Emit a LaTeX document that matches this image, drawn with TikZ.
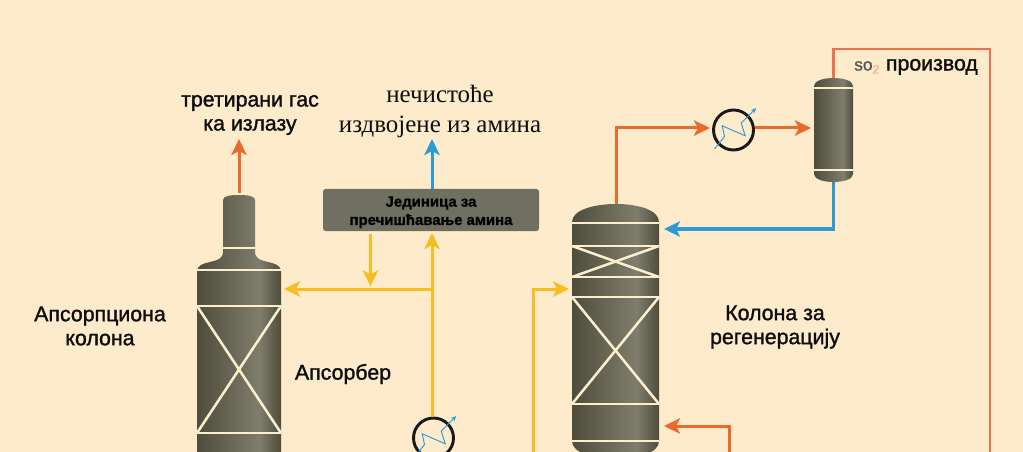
\documentclass[tikz,border=0pt]{standalone}
\usepackage{fontspec}
\setmainfont[FakeBold=1.3]{Liberation Sans}
\newfontfamily\serifcyr{Liberation Serif}
\usepackage{tikz}
\usetikzlibrary{arrows.meta}
\usetikzlibrary{calc}
\definecolor{paper}{HTML}{FDEBCB}
\definecolor{cream}{HTML}{FBEFD0}
\definecolor{flowor}{HTML}{EA6A2C}
\definecolor{flowso}{HTML}{E9734F}
\definecolor{flowbl}{HTML}{2B9AD6}
\definecolor{flowye}{HTML}{F5BE22}
\definecolor{unitgray}{HTML}{6F6F62}
\definecolor{vdark}{HTML}{4E4C3A}
\definecolor{vlight}{HTML}{7F7E6D}
\pgfdeclarehorizontalshading{vesselshade}{100bp}{color(0bp)=(vdark);
  color(25bp)=(vdark);color(62bp)=(vlight);color(75bp)=(vdark);color(100bp)=(vdark)}
\tikzset{vesselbody/.style={shading=vesselshade,draw=none}}
\tikzset{trayline/.style={draw=cream,line width=1.9pt}}
\tikzset{vesselbox/.style={rectangle,inner sep=0pt,outer sep=0pt}}
\tikzset{coolerbox/.style={circle,draw=black!90,line width=2.2pt,inner sep=0pt,minimum size=30pt,outer sep=1pt}}
\tikzset{flow/.style={line width=2.25pt,-{Stealth[length=12pt,width=11.5pt,inset=3pt]}}}
\tikzset{lbl/.style={align=center,inner sep=0pt,font=\fontsize{16}{18}\selectfont,text=black!95}}
\begin{document}
\begin{tikzpicture}[x=0.75pt,y=-0.75pt]
\useasboundingbox (0,0) rectangle (1023,452);
\fill[paper] (0,0) rectangle (1023,452);
\clip (0,0) rectangle (1023,452);

% absorber
\shade[vesselbody] (223,200) .. controls (223,196) and (230,195) .. (239,195)
  .. controls (248,195) and (255,196) .. (255,200) -- (255,252)
  .. controls (255,266) and (281,258) .. (281,272) -- (281,470) -- (197,470) -- (197,272)
  .. controls (197,258) and (223,266) .. (223,252) -- cycle;
\draw[trayline] (223,248) -- (255,248);
\foreach \yy in {270,306,433}
  \draw[trayline] (197,\yy) -- (281,\yy);
\draw[trayline] (197,306) -- (281,433);
\draw[trayline] (281,306) -- (197,433);
\node[vesselbox,minimum width=63pt,minimum height=180pt] (absorber) at (239,330) {};

% regenerator
\shade[vesselbody] (572,222) .. controls (572,210) and (594,204) .. (616,204)
  .. controls (638,204) and (659,210) .. (659,222) -- (659,441)
  .. controls (659,453) and (638,459) .. (616,459)
  .. controls (594,459) and (572,453) .. (572,441) -- cycle;
\foreach \yy in {223,246,277,297,404,441}
  \draw[trayline] (572,\yy) -- (659,\yy);
\foreach \ya/\yb in {246/277,297/404} {
  \draw[trayline] (572,\ya) -- (659,\yb);
  \draw[trayline] (659,\ya) -- (572,\yb);
}
\node[vesselbox,minimum width=65pt,minimum height=190pt] (regen) at (616,331) {};

% reflux drum
\shade[vesselbody] (814,86) .. controls (814,81) and (823,78) .. (833.5,78)
  .. controls (844,78) and (853,81) .. (853,86) -- (853,174)
  .. controls (853,179) and (844,182) .. (833.5,182)
  .. controls (823,182) and (814,179) .. (814,174) -- cycle;
\foreach \yy in {88,170}
  \draw[trayline] (814,\yy) -- (853,\yy);
\node[vesselbox,minimum width=29pt,minimum height=78pt] (drum) at (833.5,130) {};

% purification unit
\node[vesselbox,fill=unitgray,rounded corners=2pt,minimum width=162pt,minimum height=31.5pt,
  align=center,font=\bfseries\fontsize{11.2}{13.7}\selectfont,text=black] (unit) at (431,210)
  {\rule{0pt}{11pt}Јединица за\\пречишћавање амина};

% coolers
\node[coolerbox] (coolertop) at (733.5,130) {};
\node[coolerbox] (coolerbot) at (433.5,438) {};
\foreach \cc in {coolertop,coolerbot} {
  \draw[flowbl,line width=0.7pt,-{Stealth[length=4pt,width=3.5pt]}] ($(\cc)+(-19,19)$) -- ++(10,-12.5)
    -- ++(-2.3,-10.7) -- ++(23,10) -- ++(-4,-12.7) -- ++(15,-15);
}

% free ends
\coordinate (treatedend) at (239,139);
\coordinate (impureend) at (432,139);
\coordinate (junction) at (432,289);
\coordinate (unitdrop) at (370.5,289);
\coordinate (leanin) at (533,452);
\coordinate (leantip) at (569,289);
\coordinate (refluxtip) at (664,229);
\coordinate (productin) at (990,452);
\coordinate (reboilin) at (729,452);
\coordinate (reboiltip) at (664,426);

% connectors
\draw[flow,flowor] (absorber.north |- 0,193) -- (treatedend);
\draw[flow,flowbl] (impureend |- unit.north) -- (impureend);
\draw[flow,flowye,shorten >=2pt] ($(unit.south -| unitdrop)+(0,3)$) -- (unitdrop);
\draw[flow,flowye] (coolerbot.north -| junction) -- ($(junction |- unit.south)+(0,2)$);
\draw[flow,flowye] (junction) -- (284,289);
\draw[flow,flowye] (leanin) |- (leantip);
\draw[flow,flowbl] (drum.south |- 0,182) |- (refluxtip);
\draw[flow,flowor] (regen.north |- 0,204) |- (710,128);
\draw[flow,flowor,line width=2.25pt] (coolertop.east |- 0,128) -- (811,128);
\draw[flowso,line width=1.8pt] (drum.north |- 0,78) |- (990,49) -- (productin);
\draw[flow,flowor] (reboilin) |- (reboiltip);

% labels
\node[lbl] (lbltreated) at (250,115) {третирани гас\\ка излазу};
\node[lbl,font=\serifcyr\fontsize{18.7}{21.8}\selectfont] (lblimpure) at (440,111.5) {нечистоће\\издвојене из амина};
\node[lbl] (lblabsorb) at (100,326) {Апсорпциона\\колона};
\node[lbl] (lblabsorber) at (343,374) {Апсорбер};
\node[lbl] (lblregen) at (775,327) {Колона за\\регенерацију};
\node[lbl,anchor=west] (lblproduct) at (854,67) {{\fontsize{13}{16}\selectfont\color{black!65}so\textsubscript{\color{flowor!50}2}} производ};
\end{tikzpicture}
\end{document}
